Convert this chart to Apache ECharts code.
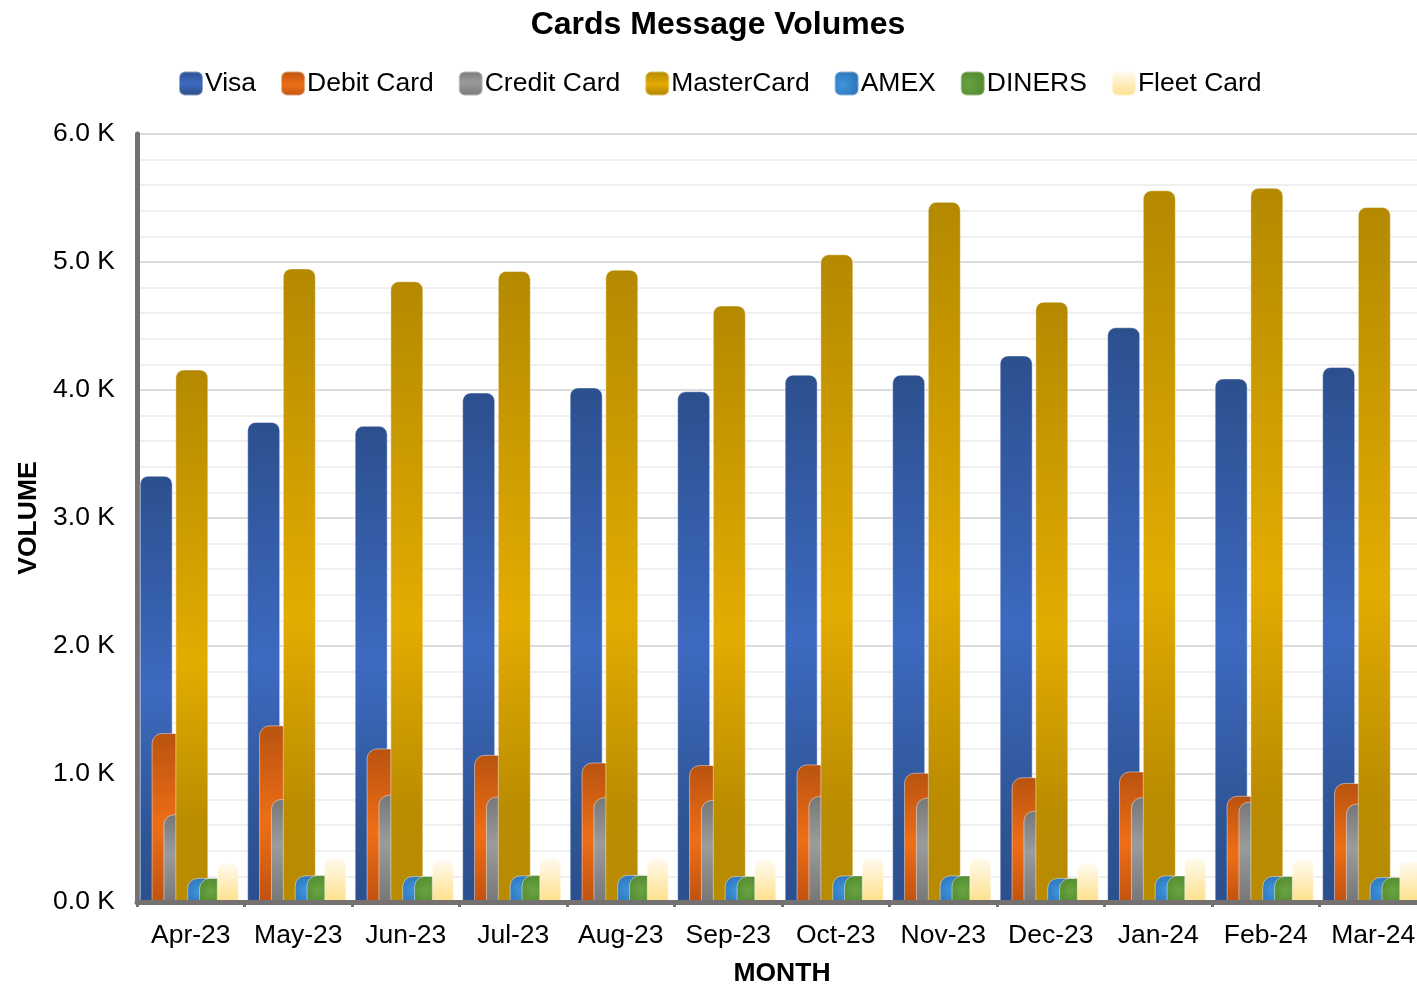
<!DOCTYPE html>
<html>
<head>
<meta charset="utf-8">
<title>Cards Message Volumes</title>
<script src="https://cdn.jsdelivr.net/npm/echarts@6/dist/echarts.min.js"></script>
<style>
    html, body { margin: 0; padding: 0; background: #fff; }
    #chart-box { width: 1417px; height: 988px; }
</style>
</head>
<body>
<div id="chart-box"></div>
<script>
    // values, per month
    const months = ['Apr-23', 'May-23', 'Jun-23', 'Jul-23', 'Aug-23', 'Sep-23', 'Oct-23', 'Nov-23', 'Dec-23', 'Jan-24', 'Feb-24', 'Mar-24'];
    const visa = [3330, 3750, 3720, 3980, 4020, 3990, 4120, 4120, 4270, 4490, 4090, 4180];
    const debitCard = [1320, 1380, 1200, 1150, 1090, 1070, 1075, 1010, 975, 1020, 830, 930];
    const creditCard = [685, 805, 838, 823, 818, 797, 828, 815, 713, 818, 784, 768];
    const masterCard = [4160, 4950, 4850, 4930, 4940, 4660, 5060, 5470, 4690, 5560, 5580, 5430];
    const amex = [188, 208, 203, 208, 211, 203, 208, 208, 188, 208, 203, 195];
    const diners = [188, 210, 203, 210, 211, 203, 208, 208, 188, 208, 203, 195];
    const fleetCard = [302, 349, 333, 349, 349, 333, 349, 349, 302, 349, 333, 323];
    const legendNames = ['Visa', 'Debit Card', 'Credit Card', 'MasterCard', 'AMEX', 'DINERS', 'Fleet Card'];

    const font = "'Liberation Sans', Arial, sans-serif";

    function vGrad(stops) {
        return new echarts.graphic.LinearGradient(0, 0, 0, 1, stops.map(function (s) {
            return {offset: s[0], color: s[1]};
        }));
    }
    function rGrad(inner, outer) {
        return new echarts.graphic.RadialGradient(0.35, 0.55, 0.75, [
            {offset: 0, color: inner},
            {offset: 1, color: outer}
        ]);
    }

    function barSeries(name, data, width, color, radius) {
        return {
            name: name,
            type: 'bar',
            data: data,
            barWidth: width,
            barGap: '-64%',
            itemStyle: {
                color: color,
                borderRadius: radius,
                borderColor: 'rgba(255,255,255,0.45)',
                borderWidth: 1
            }
        };
    }
    // invisible spacer columns, only used to push the next bars sideways
    function spacer(name, width) {
        return {
            name: name,
            type: 'bar',
            data: months.map(function () { return '-'; }),
            barWidth: width,
            barGap: '-64%',
            silent: true
        };
    }

    let option = {
        animation: false,
        textStyle: {fontFamily: font},
        title: {
            text: 'Cards Message Volumes',
            left: 713,
            top: 4,
            textAlign: 'center',
            textStyle: {fontFamily: font, fontSize: 32, fontWeight: 'bold', color: '#000'}
        },
        legend: {
            data: legendNames,
            left: 173,
            top: 65,
            itemWidth: 24,
            itemHeight: 24,
            itemGap: 24,
            icon: 'roundRect',
            textStyle: {fontFamily: font, fontSize: 26.5, color: '#000', padding: [0, 0, 0, -3]}
        },
        grid: {
            left: 137,
            right: -10,
            top: 134,
            bottom: 86,
            containLabel: false,
            outerBoundsMode: 'none'
        },
        xAxis: {
            type: 'category',
            data: months,
            z: 5,
            name: 'MONTH',
            nameLocation: 'middle',
            nameGap: 58,
            nameTextStyle: {fontFamily: font, fontSize: 26.5, fontWeight: 'bold', color: '#000'},
            axisLine: {lineStyle: {color: '#767171', width: 5}},
            axisTick: {show: true, interval: 0, length: 5, lineStyle: {color: '#767171', width: 3}},
            axisLabel: {fontFamily: font, fontSize: 26.5, color: '#000', margin: 20, interval: 0}
        },
        yAxis: {
            type: 'value',
            min: 0,
            max: 6000,
            interval: 1000,
            name: 'VOLUME',
            nameLocation: 'middle',
            nameGap: 94,
            nameTextStyle: {fontFamily: font, fontSize: 26.5, fontWeight: 'bold', color: '#000'},
            axisLine: {show: true, lineStyle: {color: '#767171', width: 5}},
            axisTick: {show: false},
            axisLabel: {
                fontFamily: font, fontSize: 26.5, color: '#000', margin: 22, padding: [4, 0, 0, 0],
                formatter: function (v) { return (v / 1000).toFixed(1) + ' K'; }
            },
            splitLine: {lineStyle: {color: '#dcdcdc', width: 2}},
            minorTick: {show: false, splitNumber: 5},
            minorSplitLine: {show: true, lineStyle: {color: '#efefef', width: 2}}
        },
        series: [
            barSeries('Visa', visa, 33,
                vGrad([[0, '#2c4f8e'], [0.5, '#3d6ac0'], [0.85, '#2f5494'], [1, '#2c4f8e']]), [8, 8, 0, 0]),
            barSeries('Debit Card', debitCard, 33,
                vGrad([[0, '#b9530f'], [0.55, '#ee6e17'], [1, '#c0520f']]), [10, 10, 0, 0]),
            barSeries('Credit Card', creditCard, 33,
                vGrad([[0, '#777777'], [0.45, '#9b9b9b'], [1, '#777777']]), [10, 10, 0, 0]),
            barSeries('MasterCard', masterCard, 33,
                vGrad([[0, '#b48900'], [0.55, '#e3ac00'], [0.85, '#bb8c00'], [1, '#b88b00']]), [8, 8, 0, 0]),
            barSeries('AMEX', amex, 33, rGrad('#3f95dc', '#2a6cb0'), [10, 10, 0, 0]),
            barSeries('DINERS', diners, 33, rGrad('#69a440', '#4c832c'), [10, 10, 0, 0]),
            spacer('gap1', 16.2),
            barSeries('Fleet Card', fleetCard, 22,
                vGrad([[0, '#fffbf2'], [1, '#ffe08a']]), [7, 7, 0, 0]),
            spacer('gap2', 17.1)
        ]
    };

    let chart = echarts.init(document.getElementById('chart-box'));
    chart.setOption(option);

    window.addEventListener('resize', function () {
        chart.resize();
    });
</script>
</body>
</html>
